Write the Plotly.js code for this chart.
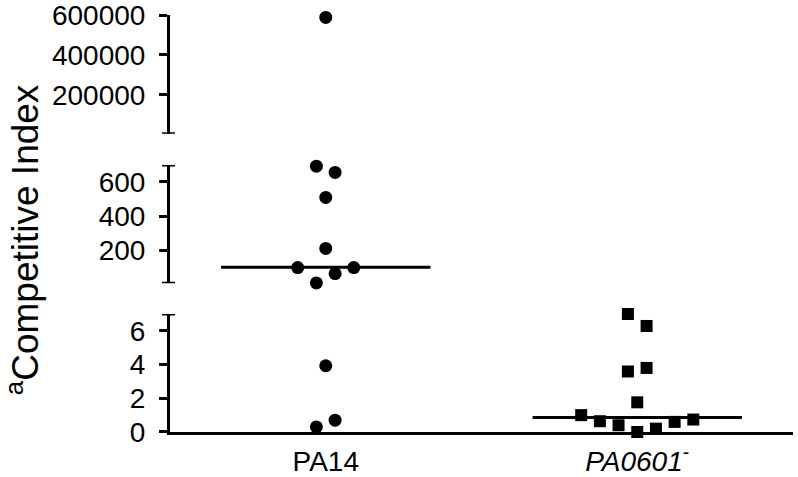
<!DOCTYPE html>
<html>
<head>
<meta charset="utf-8">
<script src="https://cdn.plot.ly/plotly-3.0.1.min.js"></script>
<style>
  html, body { margin: 0; padding: 0; background: #fff; }
  #vis { width: 798px; height: 477px; }
</style>
</head>
<body>
<div id="vis"></div>
<script>
// groups on the x axis
const groups = ['PA14', '<i>PA0601</i><sup>-</sup>'];

// competitive index values
const pa14Values = [588000, 692, 655, 509, 210, 98, 98, 63, 8, 3.93, 0.7, 0.3];
const pa14Offsets = [0, -0.03, 0.03, 0, 0, -0.09, 0.09, 0.03, -0.03, 0, 0.03, -0.03];
const pa0601Values = [7.0, 6.29, 3.59, 3.8, 1.76, 1.0, 0.64, 0.4, 0.0, 0.2, 0.6, 0.74];
const pa0601Offsets = [-0.03, 0.03, -0.03, 0.03, 0, -0.18, -0.12, -0.06, 0, 0.06, 0.12, 0.18];
const medians = [100, 0.86];

// broken y axis: bottom, middle, top segment
const segmentRanges = [[0, 7], [7, 698], [5000, 600000]];
const segmentTicks = [[0, 2, 4, 6], [200, 400, 600], [200000, 400000, 600000]];
const segmentDomains = [[0, 0.283], [0.357, 0.640], [0.715, 1]];
const axisIds = ['y', 'y2', 'y3'];

const font = 'Liberation Sans, Arial, sans-serif';

function segmentOf(v) {
  for (let i = 0; i < segmentRanges.length; i++) {
    if (v >= segmentRanges[i][0] && v <= segmentRanges[i][1]) return i;
  }
  return segmentRanges.length - 1;
}

function groupTraces(values, offsets, groupIdx, symbol, size) {
  const out = [];
  for (let s = 0; s < segmentRanges.length; s++) {
    const xs = [], ys = [];
    values.forEach((v, i) => {
      if (segmentOf(v) === s) {
        xs.push(groupIdx + 1 + offsets[i]);
        ys.push(v);
      }
    });
    if (!xs.length) continue;
    out.push({
      type: 'scatter',
      mode: 'markers',
      x: xs,
      y: ys,
      yaxis: axisIds[s],
      cliponaxis: false,
      marker: { symbol: symbol, size: size, color: '#000' },
      hoverinfo: 'y',
      showlegend: false,
    });
  }
  return out;
}

const medianTraces = medians.map((m, g) => ({
  type: 'scatter',
  mode: 'lines',
  x: [g + 1 - 0.336, g + 1 + 0.336],
  y: [m, m],
  yaxis: axisIds[segmentOf(m)],
  line: { color: '#000', width: 3 },
  cliponaxis: false,
  hoverinfo: 'skip',
  showlegend: false,
}));

const data = medianTraces
  .concat(groupTraces(pa14Values, pa14Offsets, 0, 'circle', 13))
  .concat(groupTraces(pa0601Values, pa0601Offsets, 1, 'square', 12));

const layout = {
  width: 798,
  height: 477,
  margin: { l: 170, r: 5, t: 15, b: 45 },
  paper_bgcolor: '#fff',
  plot_bgcolor: '#fff',
  showlegend: false,
  font: { family: font, color: '#000', size: 28 },
  xaxis: {
    range: [0.5, 2.5],
    tickvals: [1, 2],
    ticktext: groups,
    ticks: '',
    ticklabelstandoff: 2,
    showgrid: false,
    zeroline: false,
    showline: true,
    linecolor: '#000',
    linewidth: 3,
    anchor: 'y',
    tickfont: { family: font, size: 28, color: '#000' },
  },
  annotations: [{
    xref: 'paper', yref: 'paper',
    x: 0, y: 0.46,
    xanchor: 'center', yanchor: 'middle',
    xshift: -147,
    text: '<sup>a</sup>Competitive Index',
    textangle: -90,
    showarrow: false,
    font: { family: font, size: 37, color: '#000' },
  }],
  shapes: [],
};

segmentRanges.forEach((r, s) => {
  const key = s === 0 ? 'yaxis' : 'yaxis' + (s + 1);
  layout[key] = {
    domain: segmentDomains[s],
    range: r,
    tickvals: segmentTicks[s],
    tickformat: 'd',
    ticks: 'outside',
    ticklen: 8,
    tickwidth: 3,
    tickcolor: '#000',
    ticklabelstandoff: 8,
    ticklabeloverflow: 'allow',
    showgrid: false,
    zeroline: false,
    showline: true,
    linecolor: '#000',
    linewidth: 3,
    anchor: 'x',
    tickfont: { family: font, size: 28, color: '#000' },
  };
  // end caps at the axis breaks
  const ends = [];
  if (s > 0) ends.push(r[0]);
  if (s < segmentRanges.length - 1) ends.push(r[1]);
  ends.forEach(v => {
    layout.shapes.push({
      type: 'line',
      xref: 'paper', yref: axisIds[s],
      xsizemode: 'pixel', xanchor: 0,
      x0: -8, x1: 5,
      y0: v, y1: v,
      line: { color: '#000', width: 3 },
    });
  });
});

Plotly.newPlot('vis', data, layout, { displayModeBar: false, staticPlot: true });
</script>
</body>
</html>
